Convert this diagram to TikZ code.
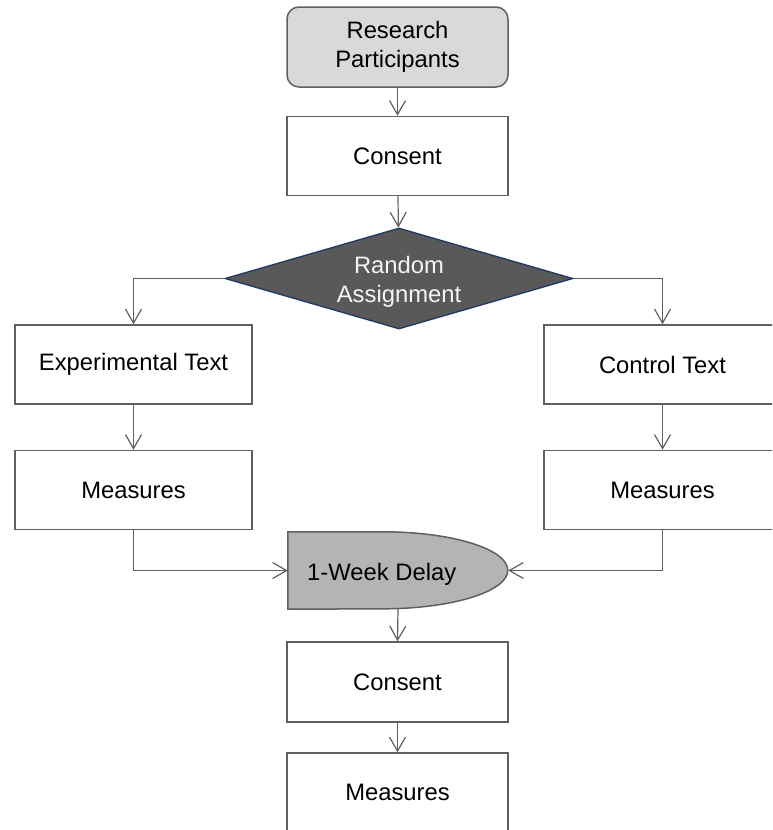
\documentclass[tikz,border=0pt]{standalone}
\usepackage{fontspec}
\setmainfont{Liberation Sans}
\usetikzlibrary{arrows.meta,shapes.geometric}
\definecolor{edge}{HTML}{5F5F5F}
\definecolor{startfill}{HTML}{D9D9D9}
\definecolor{decfill}{HTML}{595959}
\definecolor{decedge}{HTML}{1F3864}
\definecolor{delayfill}{HTML}{B4B4B4}
\definecolor{decfont}{HTML}{F4F4F4}

\begin{document}
\begin{tikzpicture}[x=1pt,y=-1pt,
  every node/.style={font=\fontsize{23.8}{28.5}\selectfont, align=center, inner sep=0pt},
  box/.style={draw=edge, line width=1.5pt, fill=white, minimum width=221pt, minimum height=79pt},
  widebox/.style={box, minimum width=237pt},
  startbox/.style={box, fill=startfill, rounded corners=12pt, minimum height=80pt},
  decision/.style={diamond, draw=decedge, line width=1.3pt, fill=decfill,
                   aspect=3.45, minimum width=348pt, minimum height=101pt},
  delayshape/.style={draw=edge, line width=1.5pt, fill=delayfill},
  conn/.style={draw=edge, line width=1.2pt, -{Straight Barb[length=14pt,width=16pt]}},
]
\useasboundingbox (0,0) rectangle (772,830);
\clip (0,0) rectangle (772,830);

% main column
\node[startbox] (rp) at (397.5,47) {Research\\Participants};
\node[box] (c1) at (397.5,156) {Consent};
\node[decision] (ra) at (399,278.5) {};
\node[text=decfont] (ratext) at (399,282) {Random\\Assignment};

% the two branches
\node[widebox] (exp) at (133.5,364.5) {Experimental Text};
\node[widebox] (ml)  at (133.5,490) {Measures};
\node[widebox] (ctl) at (662.5,364.5) {Control Text};
\node[widebox] (mr)  at (662.5,490) {Measures};

% delay terminal: straight left part, elliptical right end
\node[minimum width=220pt, minimum height=77pt] (delay) at (398,570.5) {};
\draw[delayshape] (delay.north west) -- ++(95,0)
  arc[start angle=-90, end angle=90, x radius=125, y radius=38.5]
  -- (delay.south west) -- cycle;
\node[anchor=base west] (delaytext) at (307,580.5) {1-Week Delay};

% follow-up
\node[box, minimum height=80pt] (c2) at (397.5,682) {Consent};
\node[box] (m2) at (397.5,792.5) {Measures};

% connectors
\draw[conn] (rp) -- (c1);
\draw[conn] (c1) -- (ra);
\draw[conn] (ra.west) -| (exp.north);
\draw[conn] (ra.east) -| (ctl.north);
\draw[conn] (exp) -- (ml);
\draw[conn] (ctl) -- (mr);
\draw[conn] (ml.south) |- (delay.west);
\draw[conn] (mr.south) |- (delay.east);
\draw[conn] (delay.south) -- (c2.north);
\draw[conn] (c2) -- (m2);
\end{tikzpicture}
\end{document}
